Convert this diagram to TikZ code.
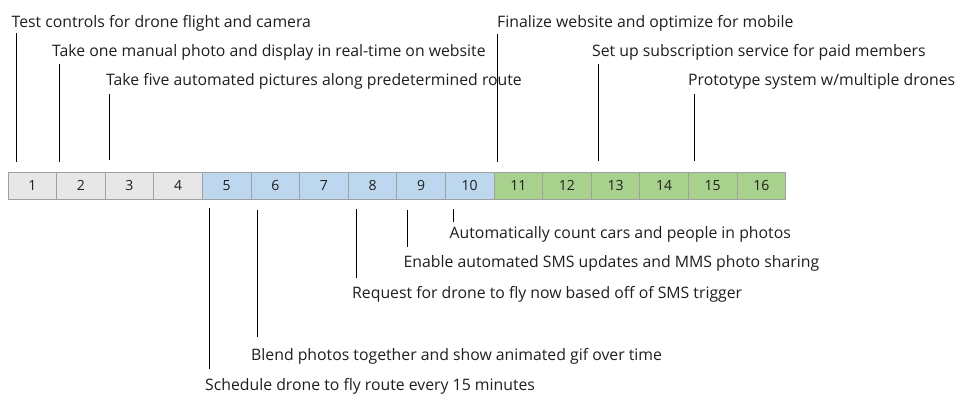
\documentclass[tikz,border=0pt]{standalone}
\usepackage{fontspec}
\setmainfont{Open Sans}
\definecolor{cgray}{HTML}{E7E7E7}
\definecolor{cblue}{HTML}{BDD7EE}
\definecolor{cgreen}{HTML}{A9D18E}
\definecolor{cborder}{HTML}{A0A0A0}
\definecolor{ctext}{HTML}{1F1F1F}
\begin{document}
\begin{tikzpicture}[x=1pt,y=-1pt,
  cell/.style={draw=cborder,line width=1pt,minimum width=48.6pt,minimum height=27pt,inner sep=0pt,font=\fontsize{14}{16}\selectfont,text=ctext},
  lbl/.style={anchor=base west,inner sep=0pt,font=\fontsize{15.8}{18}\selectfont,text=ctext},
  tick/.style={draw=black,line width=0.9pt}]
\useasboundingbox (0,0) rectangle (962,402);
\fill[white] (0,0) rectangle (962,402);
% cells
\foreach \i in {1,...,16}{
  \pgfmathsetmacro{\cx}{8+48.6*(\i-0.5)}
  \ifnum\i<5 \def\cf{cgray}\else\ifnum\i<11 \def\cf{cblue}\else\def\cf{cgreen}\fi\fi
  \node[cell,fill=\cf] (c\i) at (\cx,185.5) {\i};
}
% top labels
\node[lbl] (l1) at (11.5,27.5) {Test controls for drone flight and camera};
\node[lbl] (l2) at (52,56.5) {Take one manual photo and display in real-time on website};
\node[lbl] (l3) at (106,85.5) {Take five automated pictures along predetermined route};
\node[lbl] (l4) at (497,27.5) {Finalize website and optimize for mobile};
\node[lbl] (l5) at (592,56.5) {Set up subscription service for paid members};
\node[lbl] (l6) at (688,85.5) {Prototype system w/multiple drones};
% bottom labels
\node[lbl] (b1) at (449.5,238) {Automatically count cars and people in photos};
\node[lbl] (b2) at (403.5,267.5) {Enable automated SMS updates and MMS photo sharing};
\node[lbl] (b3) at (352,298) {Request for drone to fly now based off of SMS trigger};
\node[lbl] (b4) at (251,360) {Blend photos together and show animated gif over time};
\node[lbl] (b5) at (205,390.5) {Schedule drone to fly route every 15 minutes};
% tick coordinates
\coordinate (t1a) at (16,33); \coordinate (t1b) at (16,162);
\coordinate (t2a) at (59,64); \coordinate (t2b) at (59,162);
\coordinate (t3a) at (109.3,94); \coordinate (t3b) at (109.3,160);
\coordinate (t4a) at (497.3,34); \coordinate (t4b) at (497.3,162);
\coordinate (t5a) at (598.3,64); \coordinate (t5b) at (598.3,160.5);
\coordinate (t6a) at (694.3,94); \coordinate (t6b) at (694.3,160.5);
\coordinate (u1a) at (453.3,209); \coordinate (u1b) at (453.3,222);
\coordinate (u2a) at (407.7,209.5); \coordinate (u2b) at (407.7,247);
\coordinate (u3a) at (356.3,209); \coordinate (u3b) at (356.3,278);
\coordinate (u4a) at (257.7,210); \coordinate (u4b) at (257.7,337);
\coordinate (u5a) at (209.3,208); \coordinate (u5b) at (209.3,369);
\foreach \p in {t1,t2,t3,t4,t5,t6,u1,u2,u3,u4,u5}{\draw[tick] (\p a) -- (\p b);}
\end{tikzpicture}
\end{document}
